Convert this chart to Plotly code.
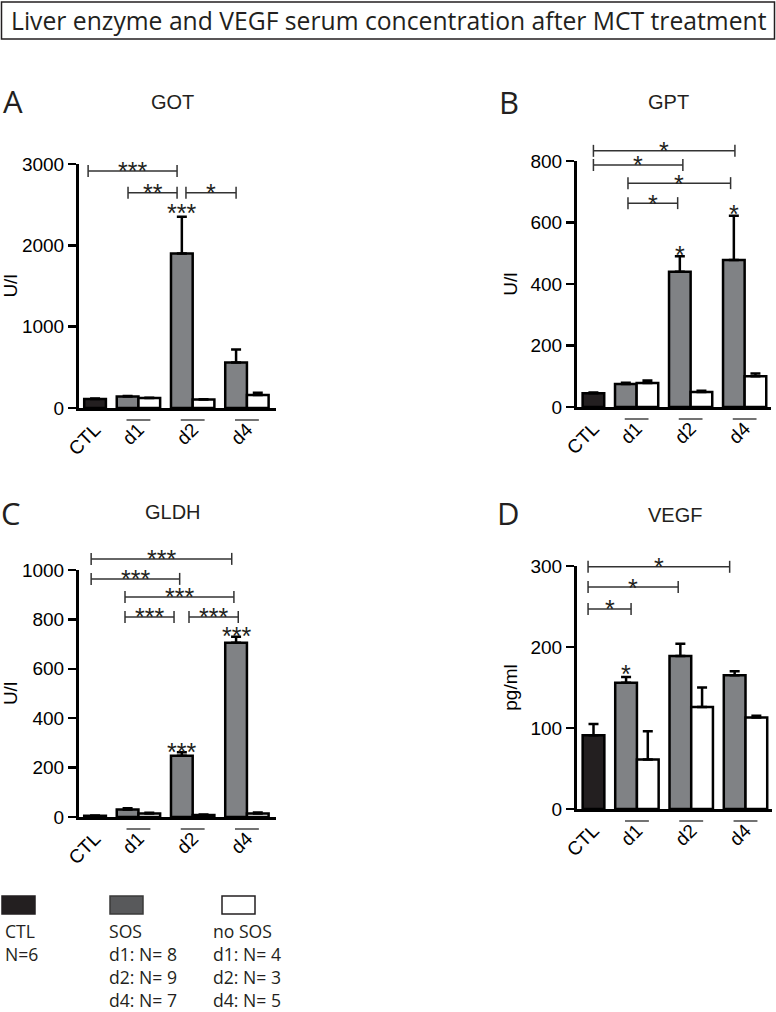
import plotly.graph_objects as go

W, H = 776, 1012

# ---------------- data ----------------
groups = ["d1", "d2", "d4"]
tick_labels = ["CTL", "d1", "d2", "d4"]

# GOT (U/l)
got_ctl, got_ctl_sem = 110, 6
got_sos = [140, 1900, 560]
got_sos_sem = [8, 450, 160]
got_nosos = [122, 105, 160]
got_nosos_sem = [5, 4, 28]

# GPT (U/l)
gpt_ctl, gpt_ctl_sem = 45, 2
gpt_sos = [75, 440, 478]
gpt_sos_sem = [4, 50, 144]
gpt_nosos = [78, 49, 100]
gpt_nosos_sem = [8, 4, 9]

# GLDH (U/l)
gldh_ctl, gldh_ctl_sem = 5, 1
gldh_sos = [30, 248, 705]
gldh_sos_sem = [5, 14, 25]
gldh_nosos = [14, 8, 14]
gldh_nosos_sem = [3, 2, 4]

# VEGF (pg/ml)
vegf_ctl, vegf_ctl_sem = 91, 14
vegf_sos = [156, 189, 165]
vegf_sos_sem = [7, 15, 5]
vegf_nosos = [61, 126, 113]
vegf_nosos_sem = [35, 24, 2]

# significance brackets: (x from, x to, y level, label)
got_sig = [(-0.32, 3.78, 2915, "***"), (1.52, 3.78, 2645, "**"), (4.19, 6.5, 2645, "*")]
got_bar_sig = [(4.0, 2411, "***")]
gpt_sig = [(0.0, 6.55, 833, "*"), (0.0, 4.14, 787, "*"), (1.6, 6.35, 728, "*"), (1.6, 3.9, 663, "*")]
gpt_bar_sig = [(4.0, 498, "*"), (6.5, 631, "*")]
gldh_sig = [(-0.18, 6.3, 1045, "***"), (-0.18, 3.9, 964, "***"), (1.38, 6.4, 891, "***"),
            (1.38, 3.64, 810, "***"), (4.33, 6.6, 810, "***")]
gldh_bar_sig = [(4.0, 271, "***"), (6.5, 737, "***")]
vegf_sig = [(-0.25, 6.27, 299, "*"), (-0.25, 3.9, 274, "*"), (-0.25, 1.73, 247, "*")]
vegf_bar_sig = [(1.5, 169, "*")]

got_ticks = [0, 1000, 2000, 3000]
gpt_ticks = [0, 200, 400, 600, 800]
gldh_ticks = [0, 200, 400, 600, 800, 1000]
vegf_ticks = [0, 100, 200, 300]

legend_ctl = ["CTL", "N=6"]
legend_sos = ["SOS", "d1: N= 8", "d2: N= 9", "d4: N= 7"]
legend_nosos = ["no SOS", "d1: N= 4", "d2: N= 3", "d4: N= 5"]

title_text = "Liver enzyme and VEGF serum concentration after MCT treatment"

# ---------------- styling ----------------
C_CTL = "#231f20"
C_SOS = "#808285"
C_NO = "#ffffff"
INK = "#231f20"
AX_FONT = "Liberation Sans, Arial, sans-serif"
MY_FONT = "Open Sans, Noto Sans, sans-serif"
STAR_SIZE = 25


def px_x(p):
    return p / W


def px_y(p):
    return 1 - p / H


# position of bars along numeric x: CTL at 0, pairs centered at 2, 4.5, 7
ctl_x = [0]
pair_centers = [2 + 2.5 * i for i in range(len(groups))]
sos_x = [c - 0.5 for c in pair_centers]
no_x = [c + 0.5 for c in pair_centers]

panels = [
    dict(letter="A", name="GOT", ytitle="U/l", ctl=got_ctl, ctl_sem=got_ctl_sem,
         sos=got_sos, sos_sem=got_sos_sem, no=got_nosos, no_sem=got_nosos_sem,
         ticks=got_ticks, sig=got_sig, bar_sig=got_bar_sig,
         xpx=(79, 276), ypx=(164, 408), xr=(-0.74, 8.34),
         letter_pos=(13, 101), title_pos=(172, 102)),
    dict(letter="B", name="GPT", ytitle="U/l", ctl=gpt_ctl, ctl_sem=gpt_ctl_sem,
         sos=gpt_sos, sos_sem=gpt_sos_sem, no=gpt_nosos, no_sem=gpt_nosos_sem,
         ticks=gpt_ticks, sig=gpt_sig, bar_sig=gpt_bar_sig,
         xpx=(577, 771), ypx=(161, 407), xr=(-0.76, 8.22),
         letter_pos=(509, 102), title_pos=(668, 102)),
    dict(letter="C", name="GLDH", ytitle="U/l", ctl=gldh_ctl, ctl_sem=gldh_ctl_sem,
         sos=gldh_sos, sos_sem=gldh_sos_sem, no=gldh_nosos, no_sem=gldh_nosos_sem,
         ticks=gldh_ticks, sig=gldh_sig, bar_sig=gldh_bar_sig,
         xpx=(79, 276), ypx=(570, 817), xr=(-0.74, 8.34),
         letter_pos=(11, 513), title_pos=(173, 512)),
    dict(letter="D", name="VEGF", ytitle="pg/ml", ctl=vegf_ctl, ctl_sem=vegf_ctl_sem,
         sos=vegf_sos, sos_sem=vegf_sos_sem, no=vegf_nosos, no_sem=vegf_nosos_sem,
         ticks=vegf_ticks, sig=vegf_sig, bar_sig=vegf_bar_sig,
         xpx=(577, 772), ypx=(566, 809), xr=(-0.76, 8.22),
         letter_pos=(508, 513), title_pos=(675, 515)),
]

fig = go.Figure()
shapes = []
annotations = []
layout_axes = {}

for i, p in enumerate(panels, start=1):
    xa = "x" if i == 1 else f"x{i}"
    ya = "y" if i == 1 else f"y{i}"
    ymax = p["ticks"][-1]

    def err(sem):
        return dict(type="data", array=sem, arrayminus=[0] * len(sem), symmetric=False,
                    color="black", thickness=2.5, width=5)

    fig.add_trace(go.Bar(x=ctl_x, y=[p["ctl"]], width=1, xaxis=xa, yaxis=ya,
                         marker=dict(color=C_CTL, line=dict(color="black", width=2.5)),
                         error_y=err([p["ctl_sem"]]), showlegend=False))
    fig.add_trace(go.Bar(x=sos_x, y=p["sos"], width=1, xaxis=xa, yaxis=ya,
                         marker=dict(color=C_SOS, line=dict(color="black", width=2.5)),
                         error_y=err(p["sos_sem"]), showlegend=False))
    fig.add_trace(go.Bar(x=no_x, y=p["no"], width=1, xaxis=xa, yaxis=ya,
                         marker=dict(color=C_NO, line=dict(color="black", width=2.5)),
                         error_y=err(p["no_sem"]), showlegend=False))

    xkey = "xaxis" if i == 1 else f"xaxis{i}"
    ykey = "yaxis" if i == 1 else f"yaxis{i}"
    layout_axes[xkey] = dict(
        domain=[px_x(p["xpx"][0]), px_x(p["xpx"][1])], anchor=ya, range=list(p["xr"]),
        automargin=False,
        showline=True, linecolor="black", linewidth=3, showgrid=False, zeroline=False,
        tickvals=ctl_x + pair_centers, ticktext=tick_labels, tickangle=-45, ticks="",
        tickfont=dict(family=AX_FONT, size=19, color="black"), fixedrange=True)
    layout_axes[ykey] = dict(
        domain=[px_y(p["ypx"][1]), px_y(p["ypx"][0])], anchor=xa, range=[0, ymax],
        automargin=False,
        showline=True, linecolor="black", linewidth=3, showgrid=False, zeroline=False,
        tickvals=p["ticks"], ticks="outside", ticklen=8, tickwidth=2.5, tickcolor="black",
        tickfont=dict(family=AX_FONT, size=19, color="black"),
        title=dict(text=p["ytitle"], font=dict(family=AX_FONT, size=19, color="black"),
                   standoff=8), fixedrange=True)

    # underline of the day groups
    for c in pair_centers:
        shapes.append(dict(type="line", xref=xa, yref=f"{ya} domain", x0=c - 0.55, x1=c + 0.55,
                           ysizemode="pixel", yanchor=0, y0=-12, y1=-12,
                           line=dict(color="#444444", width=1.5)))

    # significance brackets
    for (x0, x1, yv, lab) in p["sig"]:
        yd = yv / ymax
        shapes.append(dict(type="line", xref=xa, yref=f"{ya} domain", x0=x0, x1=x1, y0=yd, y1=yd,
                           line=dict(color="#333333", width=1.5)))
        for xe in (x0, x1):
            shapes.append(dict(type="line", xref=xa, yref=f"{ya} domain", x0=xe, x1=xe,
                               ysizemode="pixel", yanchor=yd, y0=-6, y1=6,
                               line=dict(color="#333333", width=1.5)))
        annotations.append(dict(x=(x0 + x1) / 2, y=yd, xref=xa, yref=f"{ya} domain",
                                text=lab, showarrow=False, yanchor="middle", yshift=-0.5,
                                font=dict(family=AX_FONT, size=STAR_SIZE, color=INK)))
    for (xs, yv, lab) in p["bar_sig"]:
        annotations.append(dict(x=xs, y=yv / ymax, xref=xa, yref=f"{ya} domain",
                                text=lab, showarrow=False, yanchor="middle", yshift=-1.5,
                                font=dict(family=AX_FONT, size=STAR_SIZE, color=INK)))

    # panel letter and title
    annotations.append(dict(x=px_x(p["letter_pos"][0]), y=px_y(p["letter_pos"][1]),
                            xref="paper", yref="paper", text=p["letter"], showarrow=False,
                            xanchor="center", yanchor="middle",
                            font=dict(family=MY_FONT, size=31, color=INK)))
    annotations.append(dict(x=px_x(p["title_pos"][0]), y=px_y(p["title_pos"][1]),
                            xref="paper", yref="paper", text=p["name"], showarrow=False,
                            xanchor="center", yanchor="middle",
                            font=dict(family=AX_FONT, size=20, color=INK)))

# title box
shapes.append(dict(type="rect", xref="paper", yref="paper", x0=px_x(1.5), x1=px_x(774.5),
                   y0=px_y(39), y1=px_y(2), line=dict(color=INK, width=1.5)))
annotations.append(dict(x=px_x(389), y=px_y(21), xref="paper", yref="paper", text=title_text,
                        showarrow=False, xanchor="center", yanchor="middle",
                        font=dict(family=MY_FONT, size=24.7, color=INK)))

# custom legend
legend_boxes = [
    (2, 35, C_CTL, C_CTL),
    (110, 143, "#58595b", "#3a3a3a"),
    (222, 255, "#ffffff", "#231f20"),
]
for (x0, x1, fill, edge) in legend_boxes:
    shapes.append(dict(type="rect", xref="paper", yref="paper", x0=px_x(x0), x1=px_x(x1),
                       y0=px_y(914), y1=px_y(896), fillcolor=fill, line=dict(color=edge, width=1.5)))

# (lines, left x, top y of first line)
legend_cols = [(legend_ctl, 3, 917), (legend_sos, 107, 917), (legend_nosos, 211, 917)]
for lines, xx, yy in legend_cols:
    annotations.append(dict(x=px_x(xx), y=px_y(yy), xref="paper", yref="paper",
                            text="<br>".join(lines), align="left",
                            showarrow=False, xanchor="left", yanchor="top",
                            font=dict(family=MY_FONT, size=17.6, color=INK)))

fig.update_layout(
    template="none",
    width=W, height=H, margin=dict(l=0, r=0, t=0, b=0, autoexpand=False),
    paper_bgcolor="white", plot_bgcolor="white", showlegend=False,
    bargap=0, shapes=shapes, annotations=annotations, **layout_axes)

fig.write_html("out.html", config={"displayModeBar": False, "staticPlot": True},
               post_script="document.body.style.margin='0px';document.body.style.padding='0px';")
